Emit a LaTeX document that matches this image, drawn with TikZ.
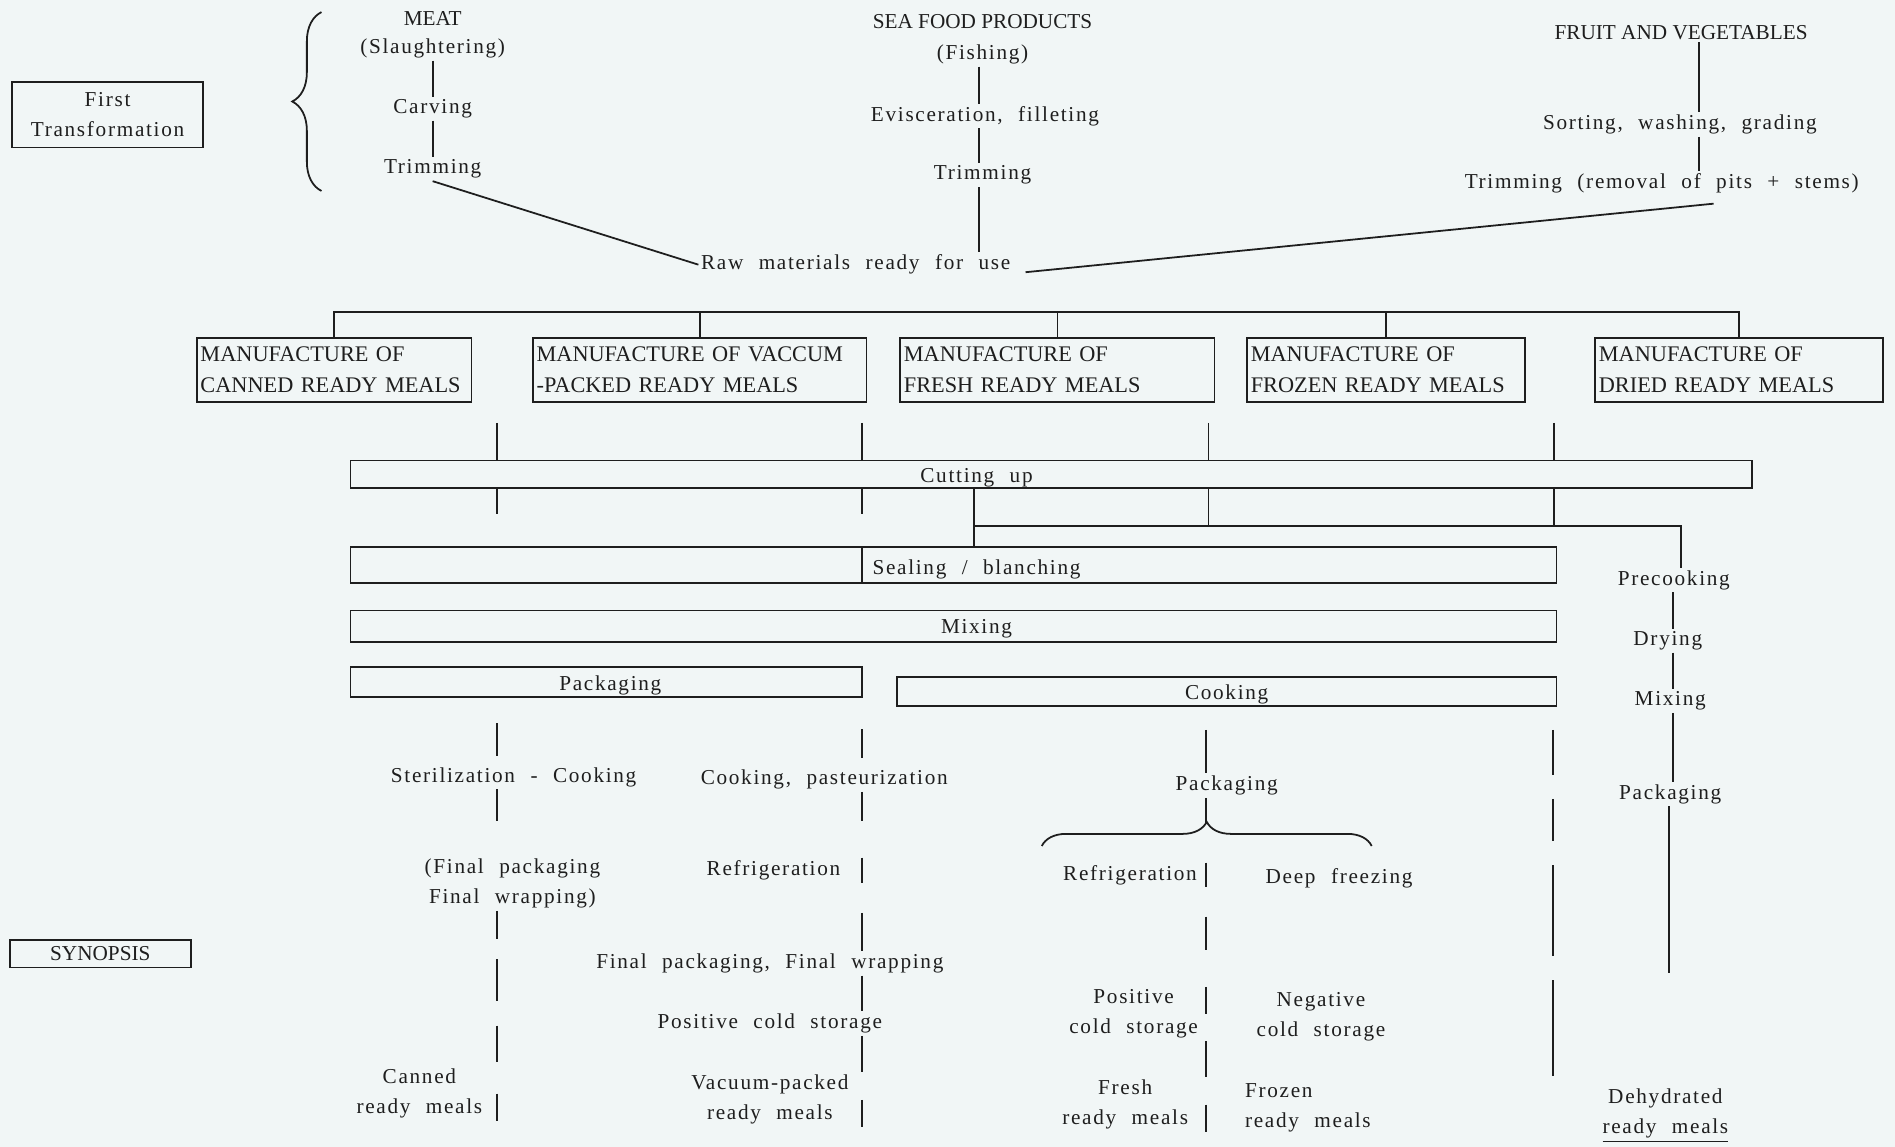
\documentclass[tikz,border=0pt]{standalone}
\usepackage{fontspec}
\setmainfont{Liberation Serif}
\newfontfamily\scanfont[LetterSpace=8,WordSpace=2.2]{Liberation Serif}
\usepackage{tikz}
\usetikzlibrary{decorations.pathreplacing}
\definecolor{paper}{RGB}{241,246,246}
\definecolor{ink}{RGB}{30,30,30}

\begin{document}
\begin{tikzpicture}[x=0.024cm, y=-0.024cm, line width=1pt, color=ink,
  tx/.style={inner sep=1pt, align=center, font=\scanfont\fontsize{12}{17}\selectfont},
  hd/.style={inner sep=1pt, font=\fontsize{12}{14}\selectfont},
  mbox/.style={draw, align=left, inner xsep=2pt, inner ysep=3pt, minimum height=1.27cm, font=\fontsize{12.6}{17.5}\selectfont},
  bar/.style={draw, inner sep=0pt},
  brc/.style={decorate, decoration={brace, amplitude=#1}}]
  \useasboundingbox (0,0) rectangle (1568,949);
  \fill[paper] (0,0) rectangle (1568,949);

  \node[tx, draw, minimum width=3.79cm, minimum height=1.3cm] (first) at (89,95) {First\\Transformation};
  \draw[brc=0.58cm] (266,158) -- (266,10);
  \node[hd] (meat) at (358,15) {MEAT};
  \node[tx] (slaught) at (358,40) {(Slaughtering)};
  \node[tx] (carving) at (358,90) {Carving};
  \node[tx] (mtrim) at (358,140) {Trimming};
  \draw (slaught.south) -- (carving.north);
  \draw (carving.south) -- (mtrim.north);

  \coordinate (sx) at (810,0);
  \node[hd] (sea) at (813,18) {SEA FOOD PRODUCTS};
  \node[tx] (fishing) at (813,45) {(Fishing)};
  \node[tx] (evisc) at (815,96) {Evisceration, filleting};
  \node[tx] (strim) at (813,145) {Trimming};
  \node[tx] (raw) at (708,219) {Raw materials ready for use};
  \draw (fishing.south -| sx) -- (evisc.north -| sx);
  \draw (evisc.south -| sx) -- (strim.north -| sx);
  \draw (strim.south -| sx) -- (raw.north -| sx);

  \coordinate (fx) at (1406,0);
  \node[hd] (fruit) at (1391,27) {FRUIT AND VEGETABLES};
  \node[tx] (sorting) at (1390,103) {Sorting, washing, grading};
  \node[tx] (ftrim) at (1375,152) {Trimming (removal of pits + stems)};
  \draw (fruit.south -| fx) -- (sorting.north -| fx);
  \draw (sorting.south -| fx) -- (ftrim.north -| fx);
  \draw (mtrim.south) -- (raw.west);
  \draw ([xshift=0.25cm,yshift=-0.15cm]raw.east) -- ([xshift=1.03cm,yshift=-0.15cm]ftrim.south);

  \node[mbox, text width=5.31cm] (mcan) at (276.5,306) {MANUFACTURE OF\\CANNED READY MEALS};
  \node[mbox, text width=6.48cm] (mvac) at (579,306) {MANUFACTURE OF VACCUM\\-PACKED READY MEALS};
  \node[mbox, text width=6.10cm] (mfresh) at (875,306) {MANUFACTURE OF\\FRESH READY MEALS};
  \node[mbox, text width=5.38cm] (mfrozen) at (1147,306) {MANUFACTURE OF\\FROZEN READY MEALS};
  \node[mbox, text width=5.57cm] (mdry) at (1439,306) {MANUFACTURE OF\\DRIED READY MEALS};
  \coordinate (bus) at (0,258);
  \draw (mcan.north) -- (mcan.north |- bus) -| (mdry.north);
  \foreach \b in {mvac,mfresh,mfrozen} \draw (\b.north) -- (\b.north |- bus);

  \coordinate (colA) at (411,0);
  \coordinate (colB) at (713,0);
  \coordinate (colC) at (1000,0);
  \coordinate (colD) at (1286,0);

  \node[bar, minimum width=27.84cm, minimum height=0.55cm] (cut) at (870,392.5) {};
  \node[tx] (cutt) at (808,395) {Cutting up};
  \node[bar, minimum width=23.95cm, minimum height=0.7cm] (seal) at (789,467.5) {};
  \node[tx] (sealt) at (808,471) {Sealing / blanching};
  \node[bar, minimum width=23.95cm, minimum height=0.62cm] (mix) at (789,518) {};
  \node[tx] (mixt) at (808,520) {Mixing};
  \node[bar, minimum width=10.15cm, minimum height=0.6cm] (pack) at (501.5,564.5) {};
  \node[tx] (packt) at (505,567) {Packaging};
  \node[bar, minimum width=13.1cm, minimum height=0.58cm] (cook) at (1015,572) {};
  \node[tx] (cookt) at (1015,575) {Cooking};

  \draw[shorten <=0.4cm] (mcan.south -| colA) -- (cut.north -| colA);
  \draw[shorten <=0.4cm] (mvac.south -| colB) -- (cut.north -| colB);
  \draw[shorten <=0.4cm] (mfresh.south -| colC) -- (cut.north -| colC);
  \draw[shorten <=0.4cm] (mfrozen.south -| colD) -- (cut.north -| colD);
  \draw (cut.south -| colA) -- ++(0,21);
  \draw (cut.south -| colB) -- ++(0,21);
  \draw (seal.north -| colB) -- (seal.south -| colB);

  \coordinate (forkL) at (806,435);
  \coordinate (forkR) at (1391,435);
  \coordinate (dx) at (1384,0);
  \node[tx] (precook) at (1385,480) {Precooking};
  \node[tx] (drying) at (1380,530) {Drying};
  \node[tx] (rmix) at (1382,580) {Mixing};
  \node[tx] (rpack) at (1382,657) {Packaging};
  \coordinate (dend) at (1381,805);
  \node[tx] (outdry) at (1378,923) {Dehydrated\\\underline{ready meals}};
  \draw (cut.south -| forkL) -- (seal.north -| forkL);
  \draw (forkL) -- (forkR) -- (precook.north -| forkR);
  \foreach \c in {colC,colD} \draw (cut.south -| \c) -- (forkL -| \c);
  \draw (precook.south -| dx) -- (drying.north -| dx);
  \draw (drying.south -| dx) -- (rmix.north -| dx);
  \draw (rmix.south -| dx) -- (rpack.north -| dx);
  \draw (rpack.south -| dend) -- (dend);

  \node[tx] (steril) at (425,643) {Sterilization - Cooking};
  \node[tx] (fincan) at (424,731) {(Final packaging\\Final wrapping)};
  \node[tx] (outcan) at (347,905) {Canned\\ready meals};
  \draw[shorten <=0.5cm, shorten >=0.17cm] (pack.south -| colA) -- (steril.north -| colA);
  \draw[shorten >=0.7cm] (steril.south -| colA) -- (fincan.north -| colA);
  \draw[dash pattern=on 0.55cm off 0.41cm on 0.84cm off 0.48cm on 0.72cm off 0.5cm] (fincan.south -| colA) -- (outcan.north -| colA);
  \draw (outcan.east -| colA) -- (outcan.south -| colA);

  \node[tx] (cookpast) at (682,645) {Cooking, pasteurization};
  \node[tx] (vrefr) at (640,720) {Refrigeration};
  \node[tx] (vfinal) at (637,797) {Final packaging, Final wrapping};
  \node[tx] (vpos) at (637,847) {Positive cold storage};
  \node[tx] (outvac) at (637,910) {Vacuum-packed\\ready meals};
  \draw[shorten <=0.62cm, shorten >=0.19cm] (pack.south -| colB) -- (cookpast.north -| colB);
  \draw[shorten >=0.72cm] (cookpast.south -| colB) -- (vrefr.north -| colB);
  \draw (vrefr.north -| colB) -- (vrefr.south -| colB);
  \draw[shorten <=0.6cm] (vrefr.south -| colB) -- (vfinal.north -| colB);
  \draw (vfinal.south -| colB) -- (vpos.north -| colB);
  \draw (vpos.south -| colB) -- (outvac.north -| colB);
  \draw (outvac.center -| colB) -- (outvac.south -| colB);

  \node[tx] (fpack) at (1015,650) {Packaging};
  \coordinate (brL) at (862,700);
  \coordinate (brR) at (1135,700);
  \coordinate (brtip) at (998,681);
  \node[tx] (frefr) at (935,724) {Refrigeration};
  \node[tx] (deep) at (1108,727) {Deep freezing};
  \node[tx] (fpos) at (938,839) {Positive\\cold storage};
  \node[tx] (fneg) at (1093,841) {Negative\\cold storage};
  \node[tx] (outfresh) at (931,914) {Fresh\\ready meals};
  \node[tx, align=left, anchor=west] (outfrozen) at (1028,917) {Frozen\\ready meals};
  \draw[brc=0.48cm] (brL) -- (brR);
  \draw[shorten <=0.46cm] (cook.south -| brtip) -- (fpack.north -| brtip);
  \draw (fpack.south -| brtip) -- (brtip);
  \draw (frefr.north -| brtip) -- (frefr.south -| brtip);
  \draw[shorten <=0.58cm, shorten >=0.74cm] (frefr.south -| brtip) -- (fpos.north -| brtip);
  \draw (fpos.north -| brtip) -- (fpos.center -| brtip);
  \draw (fpos.south -| brtip) -- (outfresh.north -| brtip);
  \draw (outfresh.center -| brtip) -- (outfresh.south -| brtip);

  \coordinate (dendD) at (1285,890);
  \draw[shorten <=0.46cm, dash pattern=on 0.89cm off 0.48cm on 0.84cm off 0.48cm on 1.8cm off 0.48cm on 1.92cm off 1cm] (cook.south -| dendD) -- (dendD);

  \node[hd, draw, minimum width=3.6cm, minimum height=0.55cm] (syn) at (83,789) {SYNOPSIS};
\end{tikzpicture}
\end{document}
